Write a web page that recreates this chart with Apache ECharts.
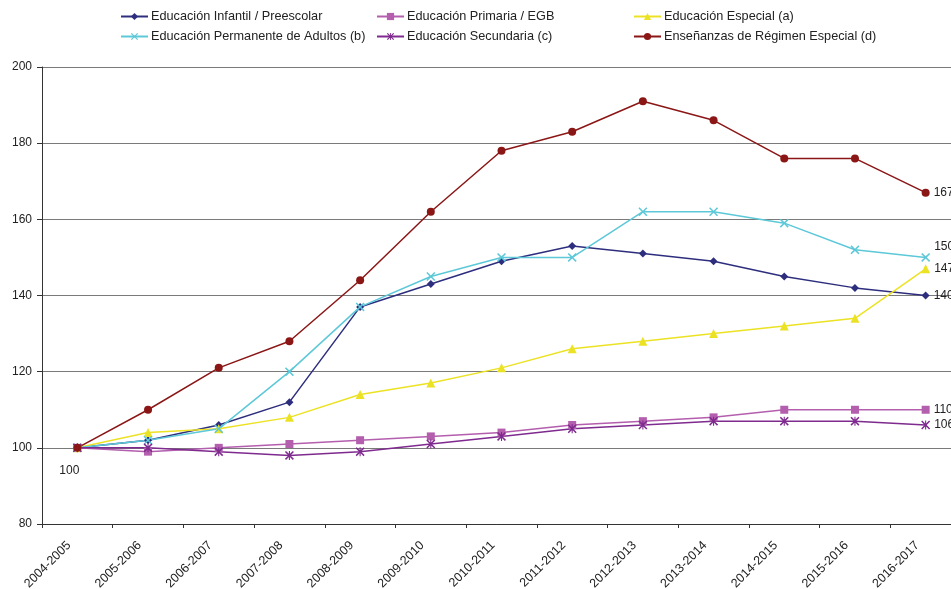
<!DOCTYPE html>
<html><head><meta charset="utf-8">
<script src="https://cdn.jsdelivr.net/npm/echarts@6/dist/echarts.min.js"></script>
<style>html,body{margin:0;padding:0;background:#fff}#c{width:951px;height:589px}</style>
</head><body><div id="c"></div>
<script>
const categories = ["2004-2005","2005-2006","2006-2007","2007-2008","2008-2009","2009-2010","2010-2011","2011-2012","2012-2013","2013-2014","2014-2015","2015-2016","2016-2017"];
const infantil   = [100,102,106,112,137,143,149,153,151,149,145,142,140];
const primaria   = [100, 99,100,101,102,103,104,106,107,108,110,110,110];
const especial   = [100,104,105,108,114,117,121,126,128,130,132,134,147];
const adultos    = [100,102,105,120,137,145,150,150,162,162,159,152,150];
const secundaria = [100,100, 99, 98, 99,101,103,105,106,107,107,107,106];
const regimen    = [100,110,121,128,144,162,178,183,191,186,176,176,167];
const names = ["Educación Infantil / Preescolar","Educación Primaria / EGB","Educación Especial (a)","Educación Permanente de Adultos (b)","Educación Secundaria (c)","Enseñanzas de Régimen Especial (d)"];
const yTicks = [80,100,120,140,160,180,200];

const X_PATH = 'path://M0,1.2 L1.2,0 L5,3.8 L8.8,0 L10,1.2 L6.2,5 L10,8.8 L8.8,10 L5,6.2 L1.2,10 L0,8.8 L3.8,5 Z';
const STAR_PATH = 'path://M0,1.2 L1.2,0 L5,3.8 L8.8,0 L10,1.2 L6.2,5 L10,8.8 L8.8,10 L5,6.2 L1.2,10 L0,8.8 L3.8,5 Z M4.4,0 L5.6,0 L5.6,10 L4.4,10 Z';

const font = 'Liberation Sans, Arial, sans-serif';
function mk(name, vals, color, symbol, size, endOffset, firstLabel){
  return {
    name, type:'line', data: vals.map((v,i)=>{
      const d = {value:v};
      if(i===vals.length-1){
        d.label = {show:true, position:'right', distance:4, offset:[0,endOffset], color:'#222', fontSize:12, fontFamily:font, formatter:'{c}'};
      }
      if(i===0 && firstLabel){
        d.label = {show:true, position:'bottom', offset:[-8,8], color:'#222', fontSize:12, fontFamily:font, formatter:'{c}'};
      }
      return d;
    }),
    symbol, symbolSize:size, showSymbol:true,
    lineStyle:{color, width:1.5}, itemStyle:{color},
    emphasis:{disabled:true}, animation:false
  };
}
const series = [
  mk(names[0], infantil, '#2e2e7e', 'diamond', 8, 0),
  mk(names[1], primaria, '#b45eae', 'rect', 8, 0),
  mk(names[2], especial, '#ece224', 'triangle', 9, 0),
  mk(names[3], adultos, '#5cc8d8', X_PATH, 9, -11),
  mk(names[4], secundaria, '#7e2a8e', STAR_PATH, 9, 0),
  mk(names[5], regimen, '#8b1616', 'circle', 8, 0, true)
];
const legPos = [[120,10],[376,10],[633,10],[120,30],[376,30],[633,30]];
const legend = names.map((n,i)=>({
  data:[n], left:legPos[i][0], top:legPos[i][1], itemWidth:27, itemHeight:9, itemGap:4, padding:0,
  textStyle:{fontSize:12.7, fontFamily:font, color:'#222', padding:[0,0,0,-2]}, selectedMode:false
}));
const chart = echarts.init(document.getElementById('c'));
chart.setOption({
  backgroundColor:'#fff',
  animation:false,
  legend,
  grid:{left:42, top:67, width:919, height:457, containLabel:false, outerBoundsMode:'none'},
  xAxis:{type:'category', data:categories, boundaryGap:true,
    axisLine:{lineStyle:{color:'#333', width:1}},
    axisTick:{show:true, length:4, lineStyle:{color:'#333'}},
    axisLabel:{rotate:45, fontSize:12.5, fontFamily:font, color:'#222', margin:11, padding:[0,12,0,0], interval:0}},
  yAxis:{type:'value', min:yTicks[0], max:yTicks[yTicks.length-1], interval:20,
    axisLine:{show:true, lineStyle:{color:'#333', width:1}},
    axisTick:{show:true, length:5, lineStyle:{color:'#333'}},
    axisLabel:{fontSize:12, fontFamily:font, color:'#222', margin:10},
    splitLine:{show:true, lineStyle:{color:'#7a7a7a', width:1}}},
  series
});
</script></body></html>
